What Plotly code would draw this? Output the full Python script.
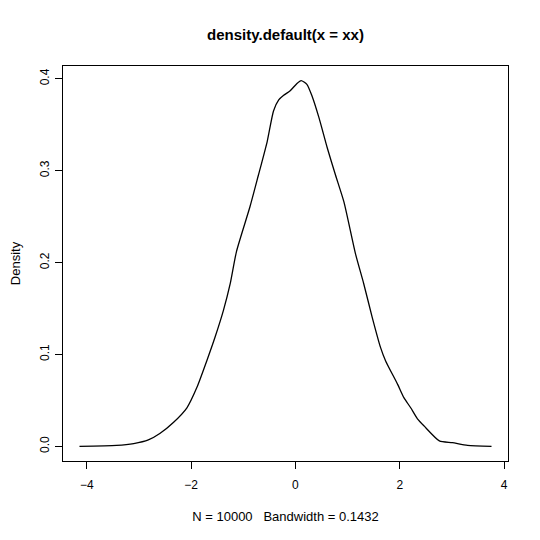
import plotly.graph_objects as go

# Density curve
x_vals = [-4.14, -3.43, -3.10, -2.82, -2.60, -2.34, -2.08, -1.89, -1.70, -1.54, -1.38,
          -1.25, -1.13, -0.87, -0.71, -0.54, -0.42, -0.32, -0.225, -0.10, 0.03, 0.11,
          0.22, 0.32, 0.45, 0.61, 0.77, 0.93, 1.15, 1.31, 1.47, 1.63, 1.73, 1.96,
          2.08, 2.21, 2.34, 2.47, 2.76, 3.01, 3.30, 3.76]
density = [0.0, 0.001, 0.003, 0.007, 0.014, 0.026, 0.042, 0.064, 0.093, 0.119, 0.148,
           0.177, 0.212, 0.261, 0.295, 0.332, 0.365, 0.377, 0.382, 0.387, 0.395, 0.398,
           0.394, 0.381, 0.358, 0.325, 0.295, 0.266, 0.210, 0.177, 0.141, 0.108, 0.093,
           0.0675, 0.053, 0.042, 0.030, 0.022, 0.006, 0.004, 0.001, 0.0]

x_ticks = [-4, -2, 0, 2, 4]
x_tick_labels = ["\u22124", "\u22122", "0", "2", "4"]
y_ticks = [0.0, 0.1, 0.2, 0.3, 0.4]
y_tick_labels = ["0.0", "0.1", "0.2", "0.3", "0.4"]

title_text = "density.default(x = xx)"
x_label = "N = 10000\u00a0\u00a0\u00a0Bandwidth = 0.1432"
y_label = "Density"

# R-style 4% axis extension
xmin, xmax = min(x_vals), max(x_vals)
ymin, ymax = min(density), max(density)
xpad = 0.04 * (xmax - xmin)
ypad = 0.04 * (ymax - ymin)

FONT = "Liberation Sans, Arial, Helvetica, sans-serif"

fig = go.Figure()
fig.add_trace(go.Scatter(
    x=x_vals, y=density, mode="lines",
    line=dict(color="black", width=1.3, shape="spline", smoothing=0.6),
    hoverinfo="x+y", showlegend=False,
))

axis_common = dict(
    showgrid=False, zeroline=False, showline=True, linecolor="black", linewidth=1,
    mirror=True, ticks="outside", ticklen=7, tickcolor="black", tickwidth=1,
    tickfont=dict(family=FONT, size=12, color="black"), automargin=False,
)

# the page body has an 8px margin, so the figure is 532 px and offsets are reduced
fig.update_layout(
    width=532, height=532,
    margin=dict(l=55, r=32, t=58, b=79),
    paper_bgcolor="white", plot_bgcolor="white",
    title=dict(text="<b>" + title_text + "</b>", x=0.5, xref="paper",
               y=1 - 27 / 532, yref="container", yanchor="middle", xanchor="center",
               font=dict(family=FONT, size=15, color="black")),
    xaxis=dict(range=[xmin - xpad, xmax + xpad], tickvals=x_ticks,
               ticktext=x_tick_labels,
               ticklabelstandoff=6,
               title=dict(text=x_label, standoff=20,
                          font=dict(family=FONT, size=13, color="black")),
               **axis_common),
    yaxis=dict(range=[ymin - ypad, ymax + ypad], tickvals=y_ticks, ticktext=y_tick_labels,
               tickangle=-90, ticklabelstandoff=1,
               title=dict(text=y_label, standoff=19,
                          font=dict(family=FONT, size=13, color="black")),
               **axis_common),
)

fig.write_html("out.html")
